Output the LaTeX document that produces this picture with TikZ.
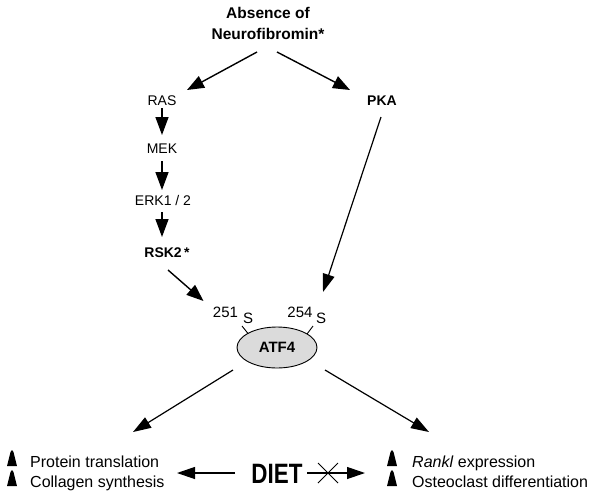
\documentclass[tikz,border=0pt]{standalone}
\usepackage{fontspec}
\setmainfont{Liberation Sans}
\usetikzlibrary{arrows.meta,shapes.geometric}
\begin{document}
\begin{tikzpicture}[x=1pt,y=-1pt,
  lbl/.style={inner sep=0pt, anchor=base, font=\fontsize{14}{16}\selectfont},
  blbl/.style={inner sep=0pt, anchor=base, font=\fontsize{14}{16}\selectfont\bfseries},
  tlbl/.style={inner sep=0pt, anchor=base, font=\fontsize{15.5}{18}\selectfont\bfseries},
  slbl/.style={inner sep=0pt, anchor=base, font=\fontsize{15}{18}\selectfont},
  olbl/.style={inner sep=0pt, anchor=base west, font=\fontsize{16}{18}\selectfont},
  arr/.style={line width=1.4pt, -{Triangle[length=17pt,width=13pt]}},
  varr/.style={line width=1.4pt, -{Triangle[length=18pt,width=13pt]}},
  thinarr/.style={line width=1.2pt, -{Triangle[length=18pt,width=12pt]}},
  tick/.style={line width=0.9pt},
  bullet/.style={fill=black}
]
\useasboundingbox (0,0) rectangle (600,496);

% top
\node[tlbl] (absence) at (268,18) {Absence of};
\node[tlbl] (neuro) at (268,39) {Neurofibromin*};

% left chain
\node[lbl] (ras) at (162,105) {RAS};
\node[lbl] (mek) at (162,153) {MEK};
\node[lbl] (erk) at (163,205) {ERK1 / 2};
\node[blbl] (rsk) at (167,257) {RSK2\,*};
\node[blbl] (pka) at (382,105) {PKA};

% ATF4 and sites
\node[ellipse, draw, line width=0.9pt, fill=black!14, minimum width=80pt, minimum height=41pt, inner sep=0pt,
      font=\fontsize{15}{18}\selectfont\bfseries] (atf) at (277,347.5) {ATF4};
\node[slbl] (n251) at (225.5,317) {251};
\node[slbl] (sA) at (248,323) {S};
\node[slbl] (n254) at (300,317) {254};
\node[slbl] (sB) at (321,323) {S};

% bottom texts
\node[olbl] (prot) at (30,467) {Protein translation};
\node[olbl] (coll) at (30,487) {Collagen synthesis};
\node[olbl] (rankl) at (412,467) {\textit{Rankl} expression};
\node[olbl] (osteo) at (412,487) {Osteoclast differentiation};
\node[inner sep=0pt, anchor=base] (diet) at (277,483)
  {\scalebox{0.8}[1]{\fontsize{28}{30}\selectfont\bfseries DIET}};

\coordinate (lefttip) at (177,473);
\coordinate (righttip) at (365,473);

% bullets
\fill[bullet] (7,466) -- (10.5,452) -- (12,450) -- (13.5,452) -- (17,466) -- cycle;
\fill[bullet] (7,486) -- (10.5,472) -- (12,470) -- (13.5,472) -- (17,486) -- cycle;
\fill[bullet] (387,466) -- (390.5,452) -- (392,450) -- (393.5,452) -- (397,466) -- cycle;
\fill[bullet] (387,486) -- (390.5,472) -- (392,470) -- (393.5,472) -- (397,486) -- cycle;

% connectors
\draw[arr] ([shift={(-11,13)}]neuro.base) -- ([shift={(25,-15)}]ras.base);
\draw[arr] ([shift={(9,13)}]neuro.base) -- ([shift={(-32,-15)}]pka.base);

\draw[varr] ([shift={(0,3)}]ras.base) -- ([shift={(0,-18)}]mek.base);
\draw[varr] ([shift={(0,8)}]mek.base) -- ([shift={(-1,-15)}]erk.base);
\draw[varr] ([shift={(-1,7)}]erk.base) -- ([shift={(-5,-20)}]rsk.base);

\draw[arr] ([shift={(1,13)}]rsk.base) -- ([shift={(-22,-16)}]n251.base);
\draw[thinarr] ([shift={(-1,12)}]pka.base) -- ([shift={(23,-25)}]n254.base);

\draw[tick] ([shift={(-6,3)}]sA.base) -- ([shift={(-29,-14)}]atf.center);
\draw[tick] ([shift={(-8,3)}]sB.base) -- ([shift={(30,-13.5)}]atf.center);

\draw[thinarr] ([shift={(-44,22.5)}]atf.center) -- ([shift={(103,-35)}]prot.base west);
\draw[thinarr] ([shift={(48,22.5)}]atf.center) -- ([shift={(17,-35)}]rankl.base west);

\draw[thinarr] ([shift={(-42,-10)}]diet.base) -- (lefttip);
\draw[thinarr] ([shift={(30,-10)}]diet.base) -- (righttip);
\draw[line width=1pt] (318,463) -- (338,483) (318,483) -- (338,463);
\end{tikzpicture}
\end{document}
